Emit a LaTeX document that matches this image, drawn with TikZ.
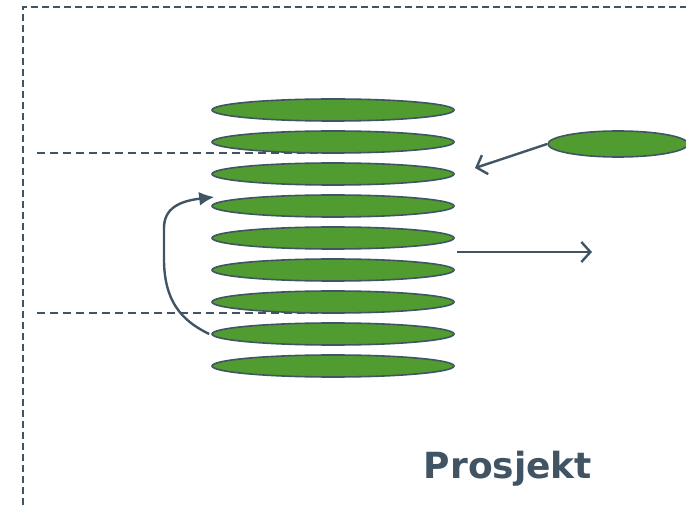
\documentclass[tikz,border=0pt]{standalone}
\usepackage{fontspec}
\usetikzlibrary{shapes.geometric,arrows.meta,calc}
\newfontfamily\labelfont{DejaVu Sans}
\definecolor{leaf}{RGB}{80,156,48}
\definecolor{slate}{RGB}{64,84,100}
\begin{document}
\begin{tikzpicture}[x=1pt,y=-1pt,
  disc/.style={ellipse,draw=slate,line width=1.6pt,fill=leaf,inner sep=0pt,minimum width=242pt,minimum height=22pt},
  frame/.style={draw=slate,line width=1.5pt,dash pattern=on 7pt off 4pt},
  guide/.style={draw=slate,line width=1.4pt,dash pattern=on 8pt off 5pt},
  openarrow/.style={draw=slate,line width=2.4pt,-{Straight Barb[length=9pt,width=20pt,line width=2.4pt]}},
  solidarrow/.style={draw=slate,line width=2.4pt,-{Latex[length=15pt,width=14pt]}}]
\useasboundingbox (0,0) rectangle (686,505);
% frame
\draw[frame] (23,505) -- (23,7) -- (686,7);
% guide lines
\draw[guide] (37,153) -- (333,153);
\draw[guide] (37,313) -- (333,313);
% stack
\foreach \i/\y in {1/110,2/142,3/174,4/206,5/238,6/270,7/302,8/334,9/366}
  \node[disc] (e\i) at (333,\y) {};
% right ellipse
\node[disc,minimum width=140pt,minimum height=26pt] (r) at (618,144) {};
% arrows
\coordinate (t1) at (475,168);
\draw[openarrow] (r.west) -- (t1);
\coordinate (s2) at (457,252);
\coordinate (t2) at (592,252);
\draw[openarrow] (s2) -- (t2);
\coordinate (c8) at ($(e8.west)+(-2,0)$);
\coordinate (c4) at ($(e4.west)+(3,-9)$);
\draw[solidarrow] (c8) .. controls (180,320) and (165,300) .. (164,262)
  -- (164,228) .. controls (164,208) and (180,201) .. (c4);
% label
\node[text=slate,font=\labelfont\bfseries\fontsize{36}{40}\selectfont,anchor=base] (lbl) at (508,478) {Prosjekt};
\end{tikzpicture}
\end{document}
